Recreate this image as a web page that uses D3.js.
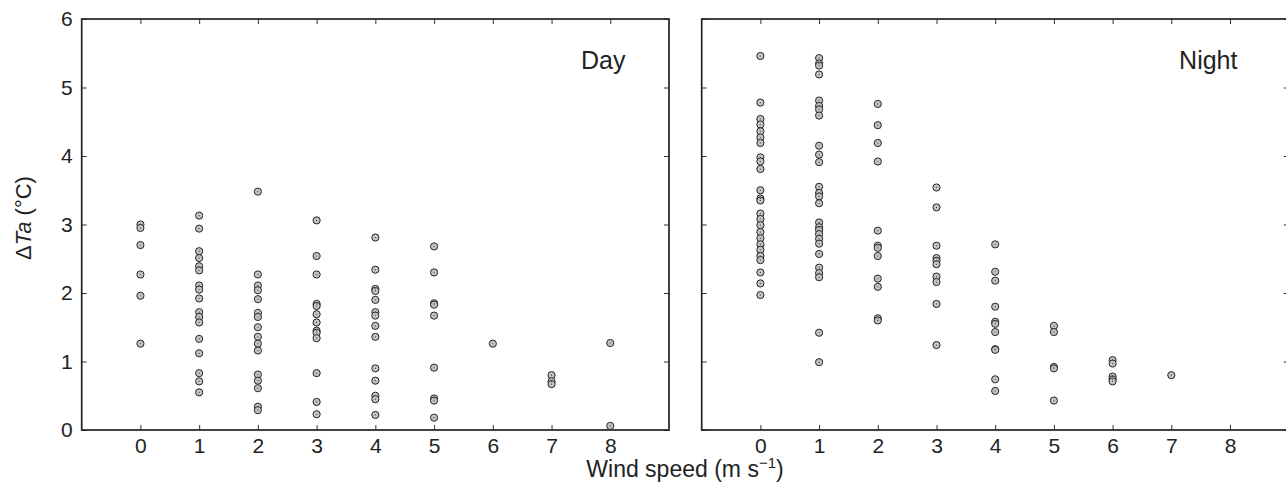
<!DOCTYPE html>
<html>
<head>
<meta charset="utf-8">
<script src="https://cdn.jsdelivr.net/npm/d3@7"></script>
<style>
  body { margin: 0; background: #fff; }
  text { font-family: "Liberation Sans", Arial, sans-serif; fill: #222; }
</style>
</head>
<body>
<div class="chart"></div>
<script>
// ΔTa vs wind speed, day and night panels

var windSpeeds = [0, 1, 2, 3, 4, 5, 6, 7, 8];
var yTicks = [0, 1, 2, 3, 4, 5, 6];

// values grouped by wind speed (index = m/s)
var dayValues = [
  [3.00, 2.95, 2.70, 2.27, 1.96, 1.26],
  [3.13, 2.94, 2.61, 2.51, 2.39, 2.33, 2.11, 2.05, 1.92, 1.72, 1.65, 1.57, 1.33, 1.12, 0.83, 0.71, 0.55],
  [3.48, 2.27, 2.11, 2.04, 1.91, 1.71, 1.65, 1.50, 1.36, 1.26, 1.16, 0.81, 0.72, 0.61, 0.34, 0.29],
  [3.06, 2.54, 2.27, 1.84, 1.81, 1.69, 1.57, 1.45, 1.42, 1.34, 0.83, 0.41, 0.23],
  [2.81, 2.34, 2.06, 2.03, 1.90, 1.72, 1.67, 1.52, 1.36, 0.90, 0.72, 0.50, 0.45, 0.22],
  [2.68, 2.30, 1.85, 1.83, 1.67, 0.91, 0.46, 0.43, 0.18],
  [1.26],
  [0.80, 0.71, 0.67],
  [1.27, 0.06]
];

var nightValues = [
  [5.46, 4.78, 4.54, 4.46, 4.36, 4.27, 4.19, 3.98, 3.92, 3.81, 3.50, 3.38, 3.35, 3.16, 3.08, 2.99, 2.89, 2.80, 2.71, 2.63, 2.54, 2.48, 2.30, 2.14, 1.97],
  [5.43, 5.35, 5.32, 5.19, 4.81, 4.73, 4.68, 4.59, 4.15, 4.02, 3.91, 3.55, 3.46, 3.41, 3.31, 3.03, 2.96, 2.92, 2.86, 2.79, 2.72, 2.57, 2.37, 2.29, 2.23, 1.42, 0.99],
  [4.76, 4.45, 4.19, 3.92, 2.91, 2.69, 2.66, 2.54, 2.21, 2.09, 1.63, 1.60],
  [3.54, 3.25, 2.69, 2.51, 2.47, 2.42, 2.24, 2.16, 1.84, 1.24],
  [2.71, 2.31, 2.18, 1.80, 1.58, 1.55, 1.43, 1.18, 1.17, 0.74, 0.57],
  [1.52, 1.43, 0.92, 0.90, 0.43],
  [1.02, 0.97, 0.78, 0.74, 0.71],
  [0.80],
  []
];

var W = 1286, H = 488;
var plotTop = 19, plotBottom = 430;
var tickLen = 5;

var svg = d3.select('.chart').append('svg')
  .attr('width', W)
  .attr('height', H);

var yScale = d3.scaleLinear()
  .domain([0, 6])
  .range([plotBottom, plotTop]);

function flatten(groups) {
  var pts = [];
  groups.forEach(function(vals, i) {
    vals.forEach(function(v) {
      pts.push({ x: windSpeeds[i], y: v });
    });
  });
  return pts;
}

function drawPanel(left, right, groups, label, labelX, showYLabels) {
  var xScale = d3.scaleLinear()
    .domain([-1, 9])
    .range([left, right]);

  var g = svg.append('g');

  // x axis bottom (ticks inward)
  g.append('g')
    .attr('transform', 'translate(0,' + plotBottom + ')')
    .call(d3.axisBottom(xScale).tickValues(windSpeeds).tickSize(-tickLen).tickPadding(8).tickFormat(d3.format('d')))
    .call(function(a) {
      a.select('.domain').remove();
      a.selectAll('line').attr('stroke', '#333');
      a.selectAll('text').attr('font-size', 21).attr('fill', '#222');
    });

  // x ticks on top
  g.append('g')
    .attr('transform', 'translate(0,' + plotTop + ')')
    .call(d3.axisTop(xScale).tickValues(windSpeeds).tickSize(-tickLen).tickFormat(''))
    .call(function(a) {
      a.select('.domain').remove();
      a.selectAll('line').attr('stroke', '#333');
    });

  // y axis left
  g.append('g')
    .attr('transform', 'translate(' + left + ',0)')
    .call(d3.axisLeft(yScale).tickValues(yTicks).tickSize(-tickLen).tickPadding(9)
      .tickFormat(showYLabels ? d3.format('d') : ''))
    .call(function(a) {
      a.select('.domain').remove();
      a.selectAll('line').attr('stroke', '#333');
      a.selectAll('text').attr('font-size', 21).attr('fill', '#222');
    });

  // y ticks right
  g.append('g')
    .attr('transform', 'translate(' + right + ',0)')
    .call(d3.axisRight(yScale).tickValues(yTicks).tickSize(-tickLen).tickFormat(''))
    .call(function(a) {
      a.select('.domain').remove();
      a.selectAll('line').attr('stroke', '#333');
    });

  // frame
  g.append('rect')
    .attr('x', left)
    .attr('y', plotTop)
    .attr('width', right - left)
    .attr('height', plotBottom - plotTop)
    .attr('fill', 'none')
    .attr('stroke', '#222')
    .attr('stroke-width', 1.7);

  var pts = flatten(groups);

  var dots = g.selectAll('circle.pt')
    .data(pts);

  dots.enter()
    .append('circle')
      .attr('class', 'pt')
      .attr('cx', function(d) { return xScale(d.x); })
      .attr('cy', function(d) { return yScale(d.y); })
      .attr('r', 3.6)
      .attr('fill', '#c2c2c2')
      .attr('stroke', '#262626')
      .attr('stroke-width', 1);

  g.selectAll('circle.ctr')
    .data(pts)
    .enter()
    .append('circle')
      .attr('class', 'ctr')
      .attr('cx', function(d) { return xScale(d.x); })
      .attr('cy', function(d) { return yScale(d.y); })
      .attr('r', 0.6)
      .attr('fill', '#444');

  g.append('text')
    .attr('x', xScale(labelX))
    .attr('y', yScale(5.36))
    .attr('text-anchor', 'middle')
    .attr('dominant-baseline', 'middle')
    .attr('font-size', 25)
    .text(label);
}

drawPanel(81.7, 669, dayValues, 'Day', 7.88, true);
drawPanel(701.7, 1288.7, nightValues, 'Night', 7.63, false);

// axis titles
svg.append('text')
  .attr('x', 685)
  .attr('y', 477)
  .attr('text-anchor', 'middle')
  .attr('font-size', 23)
  .html('Wind speed (m s<tspan dy="-9" font-size="15">\u22121</tspan><tspan dy="9">)</tspan>');

svg.append('text')
  .attr('transform', 'translate(31,218) rotate(-90)')
  .attr('text-anchor', 'middle')
  .attr('font-size', 22)
  .html('\u0394<tspan font-style="italic">Ta</tspan> (\u00b0C)');
</script>
</body>
</html>
